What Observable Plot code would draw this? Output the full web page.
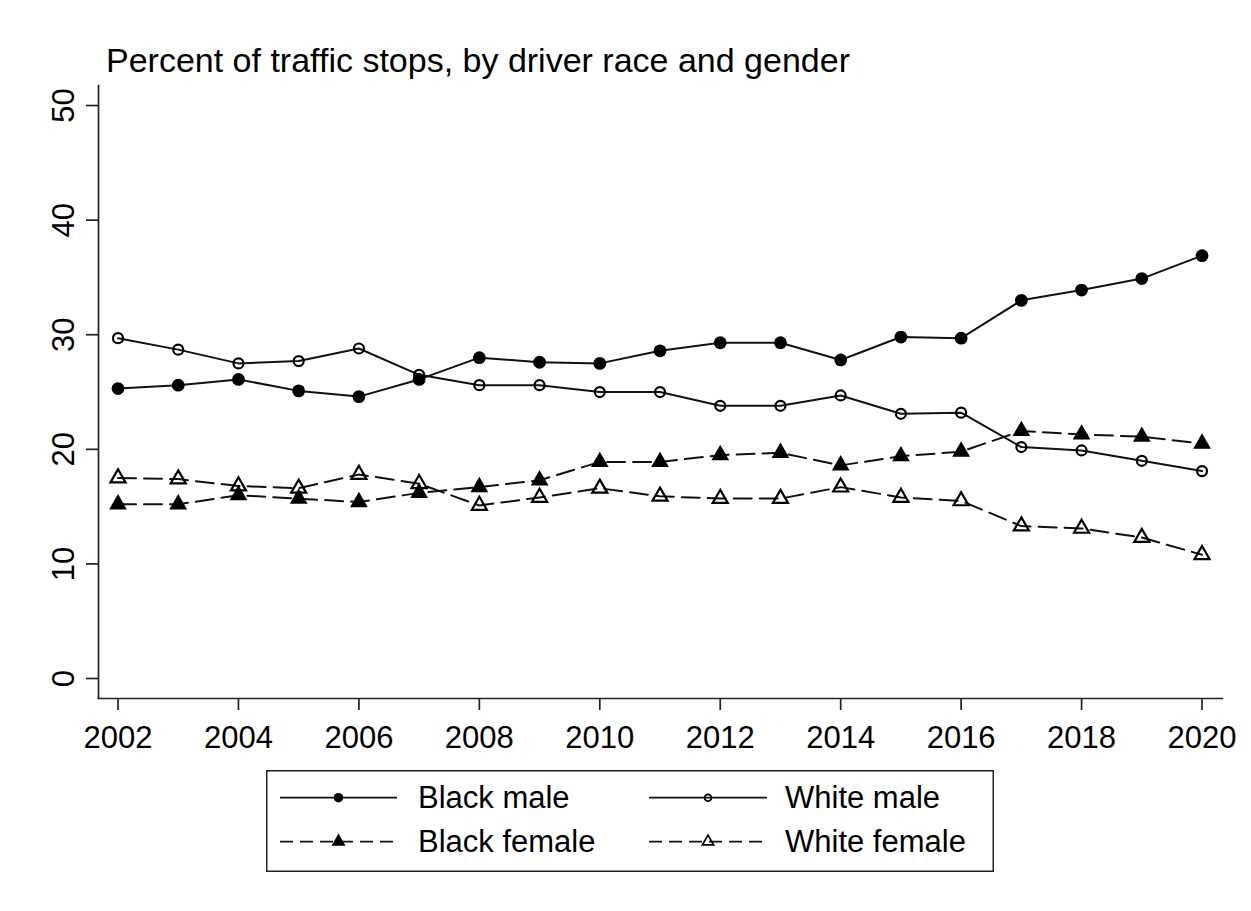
<!DOCTYPE html>
<html>
<head>
<meta charset="utf-8">
<script src="https://cdn.jsdelivr.net/npm/d3@7"></script>
<script src="https://cdn.jsdelivr.net/npm/@observablehq/plot@0.6"></script>
<style>
  html, body { margin: 0; padding: 0; background: #fff; }
  #wrap { position: relative; width: 1251px; height: 911px; background: #fff; font-family: "Liberation Sans", Arial, sans-serif; }
  #title { position: absolute; left: 106px; top: 43px; font-size: 34px; line-height: 34px; color: #000; white-space: nowrap; }
  #chart { position: absolute; left: 0; top: 0; }
  #legend { position: absolute; left: 266px; top: 770px; }
</style>
</head>
<body>
<div id="wrap">
  <div id="chart"></div>
  <div id="title">Percent of traffic stops, by driver race and gender</div>
  <div id="legend"></div>
</div>
<script>
const years = [2002, 2003, 2004, 2005, 2006, 2007, 2008, 2009, 2010, 2011, 2012, 2013, 2014, 2015, 2016, 2017, 2018, 2019, 2020];
const blackMale   = [25.3, 25.6, 26.1, 25.1, 24.6, 26.1, 28.0, 27.6, 27.5, 28.6, 29.3, 29.3, 27.8, 29.8, 29.7, 33.0, 33.9, 34.9, 36.9];
const whiteMale   = [29.7, 28.7, 27.5, 27.7, 28.8, 26.5, 25.6, 25.6, 25.0, 25.0, 23.8, 23.8, 24.7, 23.1, 23.2, 20.2, 19.9, 19.0, 18.1];
const blackFemale = [15.2, 15.2, 16.0, 15.7, 15.4, 16.2, 16.7, 17.3, 18.9, 18.9, 19.5, 19.7, 18.6, 19.4, 19.8, 21.6, 21.3, 21.1, 20.5];
const whiteFemale = [17.5, 17.4, 16.8, 16.6, 17.8, 17.0, 15.1, 15.8, 16.6, 15.9, 15.7, 15.7, 16.7, 15.8, 15.5, 13.3, 13.1, 12.3, 10.8];
const seriesNames = ["Black male", "White male", "Black female", "White female"];
const xTicks = [2002, 2004, 2006, 2008, 2010, 2012, 2014, 2016, 2018, 2020];
const yTicks = [0, 10, 20, 30, 40, 50];

const seriesValues = [blackMale, whiteMale, blackFemale, whiteFemale];
const data = seriesNames.flatMap((name, s) => years.map((year, i) => ({year, value: seriesValues[s][i], series: name})));
const of = name => data.filter(d => d.series === name);

const ink = "#111";
const chart = Plot.plot({
  width: 1251,
  height: 760,
  marginTop: 85,
  marginLeft: 98,
  marginRight: 29.3,
  marginBottom: 62,
  style: {fontFamily: "'Liberation Sans', Arial, sans-serif", color: "#000", background: "transparent", overflow: "visible"},
  x: {domain: [2001.676, 2020.335]},
  y: {domain: [-1.745, 51.75]},
  marks: [
    Plot.axisX({ticks: xTicks, tickSize: 12, tickPadding: 15, tickFormat: d => String(d), fontSize: 31, label: null, stroke: "#222", strokeWidth: 1.7, fill: "#000"}),
    Plot.axisY({ticks: yTicks, tickSize: 12, tickPadding: 13, tickRotate: -90, fontSize: 31, label: null, stroke: "#222", strokeWidth: 1.7, fill: "#000"}),
    Plot.frame({anchor: "left", stroke: "#222", strokeWidth: 1.7}),
    Plot.frame({anchor: "bottom", stroke: "#222", strokeWidth: 1.7}),
    Plot.line(of("Black male"), {x: "year", y: "value", stroke: ink, strokeWidth: 2}),
    Plot.line(of("White male"), {x: "year", y: "value", stroke: ink, strokeWidth: 2}),
    Plot.line(of("Black female"), {x: "year", y: "value", stroke: ink, strokeWidth: 2, strokeDasharray: "18,8"}),
    Plot.line(of("White female"), {x: "year", y: "value", stroke: ink, strokeWidth: 2, strokeDasharray: "18,8"}),
    Plot.dot(of("Black male"), {x: "year", y: "value", r: 6.4, fill: "#000", stroke: "none"}),
    Plot.dot(of("White male"), {x: "year", y: "value", r: 5.0, fill: "none", stroke: "#000", strokeWidth: 2.2}),
    Plot.dot(of("Black female"), {x: "year", y: "value", r: 6.6, symbol: "triangle", fill: "#000", stroke: "none"}),
    Plot.dot(of("White female"), {x: "year", y: "value", r: 5.6, symbol: "triangle", fill: "none", stroke: "#000", strokeWidth: 2.2})
  ]
});
document.getElementById("chart").appendChild(chart);

// Legend
const legendSpec = [
  {name: seriesNames[0], dash: null, symbol: d3.symbolCircle, r: 4.8, filled: true},
  {name: seriesNames[1], dash: null, symbol: d3.symbolCircle, r: 3.4, filled: false},
  {name: seriesNames[2], dash: "13,7", symbol: d3.symbolTriangle, r: 5.2, filled: true},
  {name: seriesNames[3], dash: "13,7", symbol: d3.symbolTriangle, r: 4.2, filled: false}
];
const W = 728, H = 102;
const lsvg = d3.select("#legend").append("svg").attr("width", W).attr("height", H)
  .style("font-family", "'Liberation Sans', Arial, sans-serif");
lsvg.append("rect").attr("x", 0.75).attr("y", 0.75).attr("width", W - 1.5).attr("height", H - 1.5)
  .attr("fill", "#fff").attr("stroke", "#222").attr("stroke-width", 1.5);
const cols = [{x0: 14, x1: 131, tx: 152}, {x0: 383, x1: 501, tx: 519}];
const rows = [27.7, 71.7];
legendSpec.forEach((s, i) => {
  const c = cols[i % 2], ry = rows[Math.floor(i / 2)];
  const g = lsvg.append("g");
  g.append("line").attr("x1", c.x0).attr("x2", c.x1).attr("y1", ry).attr("y2", ry)
    .attr("stroke", ink).attr("stroke-width", 1.8).attr("stroke-dasharray", s.dash);
  g.append("path").attr("transform", `translate(${(c.x0 + c.x1) / 2},${ry})`)
    .attr("d", d3.symbol(s.symbol, Math.PI * s.r * s.r)())
    .attr("fill", s.filled ? "#000" : "none").attr("stroke", s.filled ? "none" : "#000").attr("stroke-width", 1.7);
  g.append("text").attr("x", c.tx).attr("y", ry + 10.5).attr("font-size", 31).attr("fill", "#000").text(s.name);
});
</script>
</body>
</html>
